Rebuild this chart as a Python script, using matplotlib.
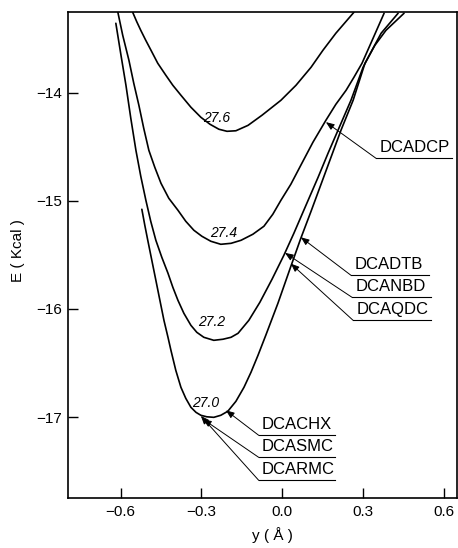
import matplotlib
matplotlib.use("Agg")
import matplotlib.pyplot as plt

plt.rcParams['font.family'] = ['Liberation Sans', 'DejaVu Sans']

# ---- data ----
x276 = [-0.555, -0.540, -0.525, -0.507, -0.487, -0.462, -0.432, -0.406, -0.376, -0.339, -0.302, -0.268,
        -0.235, -0.205, -0.172, -0.127, -0.075, -0.005, 0.051, 0.107, 0.151, 0.199, 0.266]
y276 = [-13.253, -13.34, -13.42, -13.51, -13.605, -13.725, -13.836, -13.929, -14.021, -14.132, -14.225, -14.29,
        -14.336, -14.355, -14.35, -14.30, -14.206, -14.068, -13.929, -13.762, -13.605, -13.447, -13.253]

x274 = [-0.610, -0.592, -0.569, -0.551, -0.532, -0.514, -0.495, -0.473, -0.450, -0.421, -0.387, -0.358,
        -0.328, -0.298, -0.265, -0.228, -0.190, -0.153, -0.109, -0.068, -0.035, -0.005, 0.032, 0.069,
        0.114, 0.162, 0.199, 0.237, 0.266, 0.296, 0.337, 0.378]
y274 = [-13.253, -13.466, -13.697, -13.910, -14.114, -14.327, -14.531, -14.688, -14.836, -14.975, -15.086, -15.188,
        -15.271, -15.327, -15.373, -15.401, -15.392, -15.364, -15.308, -15.234, -15.123, -14.994, -14.845, -14.669,
        -14.456, -14.253, -14.105, -13.975, -13.855, -13.725, -13.494, -13.262]

x272 = [-0.6175, -0.599, -0.580, -0.562, -0.543, -0.525, -0.506, -0.488, -0.469, -0.447, -0.424, -0.406,
        -0.387, -0.365, -0.339, -0.317, -0.291, -0.254, -0.220, -0.190, -0.164, -0.124, -0.083, -0.038,
        0.006, 0.043, 0.088, 0.133, 0.170, 0.207, 0.255, 0.300, 0.333, 0.367, 0.430]
y272 = [-13.355, -13.642, -13.929, -14.234, -14.531, -14.771, -14.994, -15.188, -15.364, -15.521, -15.669, -15.799,
        -15.920, -16.040, -16.151, -16.216, -16.262, -16.290, -16.280, -16.262, -16.225, -16.105, -15.938, -15.725,
        -15.503, -15.300, -15.040, -14.781, -14.558, -14.345, -14.068, -13.762, -13.605, -13.447, -13.262]

x270 = [-0.521, -0.510, -0.499, -0.484, -0.469, -0.454, -0.439, -0.424, -0.413, -0.395, -0.376, -0.358,
        -0.339, -0.320, -0.302, -0.280, -0.254, -0.228, -0.202, -0.172, -0.142, -0.116, -0.090, -0.061,
        -0.016, 0.032, 0.069, 0.107, 0.144, 0.181, 0.218, 0.263, 0.307, 0.344, 0.385, 0.452]
y270 = [-15.077, -15.225, -15.364, -15.549, -15.734, -15.920, -16.105, -16.262, -16.383, -16.568, -16.725, -16.827,
        -16.910, -16.957, -16.984, -16.998, -17.003, -16.984, -16.947, -16.855, -16.725, -16.586, -16.429, -16.243,
        -15.947, -15.605, -15.345, -15.095, -14.845, -14.595, -14.345, -14.068, -13.725, -13.558, -13.420, -13.262]

curve_labels = ["27.6", "27.4", "27.2", "27.0"]
curve_label_x = [-0.245, -0.216, -0.261, -0.283]
curve_label_y = [-14.23, -15.30, -16.12, -16.87]

names = ["DCADCP", "DCADTB", "DCANBD", "DCAQDC", "DCACHX", "DCASMC", "DCARMC"]
target_x = [0.162, 0.069, 0.010, 0.032, -0.209, -0.294, -0.302]
target_y = [-14.270, -15.336, -15.48, -15.58, -16.938, -17.02, -16.99]
elbow_x = [0.348, 0.255, 0.259, 0.263, -0.087, -0.087, -0.087]
elbow_y = [-14.605, -15.688, -15.892, -16.105, -17.17, -17.374, -17.587]
line_end_x = [0.630, 0.545, 0.552, 0.552, 0.195, 0.195, 0.195]

xticks = [-0.6, -0.3, 0.0, 0.3, 0.6]
xticklabels = ["\u22120.6", "\u22120.3", "0.0", "0.3", "0.6"]
yticks = [-14, -15, -16, -17]
yticklabels = ["\u221214", "\u221215", "\u221216", "\u221217"]

# ---- figure ----
fig = plt.figure(figsize=(4.58, 5.48), dpi=100)
ax = fig.add_axes([0.1485, 0.0912, 0.849, 0.887])

for xs, ys in [(x276, y276), (x274, y274), (x272, y272), (x270, y270)]:
    ax.plot(xs, ys, color='black', lw=1.2, solid_capstyle='round', solid_joinstyle='round')

for t, lx, ly in zip(curve_labels, curve_label_x, curve_label_y):
    ax.text(lx, ly, t, fontsize=10, style='italic', ha='center', va='center')

for n, tx, ty, ex, ey, lx in zip(names, target_x, target_y, elbow_x, elbow_y, line_end_x):
    ax.annotate('', xy=(tx, ty), xytext=(ex, ey),
                arrowprops=dict(arrowstyle='-|>,head_length=0.5,head_width=0.2',
                                color='black', lw=0.7, shrinkA=0, shrinkB=0))
    ax.plot([ex, lx], [ey, ey], color='black', lw=0.8)
    ax.text(ex + 0.012, ey + 0.03, n, fontsize=12, ha='left', va='bottom')

ax.set_xlim(-0.795, 0.648)
ax.set_ylim(-17.75, -13.25)
ax.set_xticks(xticks)
ax.set_xticklabels(xticklabels)
ax.set_yticks(yticks)
ax.set_yticklabels(yticklabels)
ax.tick_params(direction='in', length=7, width=1, labelsize=11, pad=5)
ax.tick_params(axis='y', pad=4)
for s in ax.spines.values():
    s.set_linewidth(1.2)

ax.set_xlabel("y ( \u00c5 )", fontsize=11)
ax.xaxis.set_label_coords(0.525, -0.06)
ax.set_ylabel("E ( Kcal )", fontsize=11)
ax.yaxis.set_label_coords(-0.11, 0.51)

fig.savefig("out.png", dpi=100)
